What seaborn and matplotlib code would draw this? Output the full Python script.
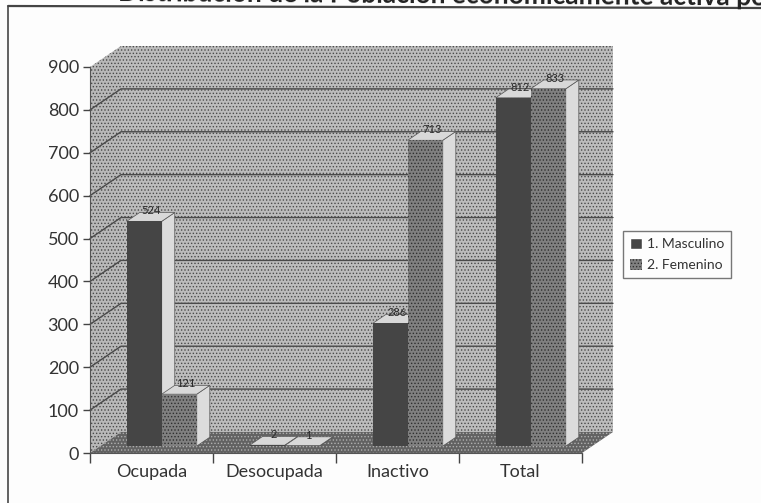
import matplotlib
matplotlib.use('Agg')
import matplotlib.pyplot as plt
import pandas as pd
import seaborn as sns
from matplotlib.patches import Polygon, Rectangle

categorias = ['Ocupada', 'Desocupada', 'Inactivo', 'Total']
masculino = [524, 2, 286, 812]
femenino = [121, 1, 713, 833]
etiquetas_serie = ['1. Masculino', '2. Femenino']
ticks_y = [0, 100, 200, 300, 400, 500, 600, 700, 800, 900]

df = pd.DataFrame({
    'categoria': categorias * 2,
    'valor': masculino + femenino,
    'sexo': [etiquetas_serie[0]] * 4 + [etiquetas_serie[1]] * 4,
})

sns.set_style('white')
plt.rcParams['font.family'] = ['Lato', 'DejaVu Sans']
plt.rcParams['hatch.linewidth'] = 0.6

W, H = 761, 503
fig = plt.figure(figsize=(W / 100, H / 100), dpi=100, facecolor='#fdfdfd')
ax = fig.add_axes([90 / W, 1 - 453 / H, 492 / W, 386 / H])
ax.patch.set_alpha(0)

# profundidad del grafico 3D en unidades de datos
dx, dy = 0.252, 49
x0, x1 = -0.5, 3.5
y_max = ticks_y[-1]
puntos_hatch = '.....'


def cara(puntos, color, hatch=None, hatch_color='#555555', z=1):
    ax.add_patch(Polygon(puntos, closed=True, facecolor=color, edgecolor=hatch_color if hatch else 'none',
                         hatch=hatch, linewidth=0, zorder=z, clip_on=False))


# paredes y piso
cara([(x0 + dx, dy), (x1 + dx, dy), (x1 + dx, y_max + dy), (x0 + dx, y_max + dy)], '#bcbcbc', puntos_hatch, '#4a4a4a')
cara([(x0, 0), (x0 + dx, dy), (x0 + dx, y_max + dy), (x0, y_max)], '#b8b8b8', puntos_hatch, '#484848')
cara([(x0, 0), (x1, 0), (x1 + dx, dy), (x0 + dx, dy)], '#626262', puntos_hatch, '#b0b0b0', z=1.2)

# lineas de la grilla
for t in ticks_y[1:-1]:
    ax.plot([x0, x0 + dx, x1 + dx], [t, t + dy, t + dy], color='#4a4a4a', lw=1.0, zorder=1.5, clip_on=False)

sns.barplot(data=df, x='categoria', y='valor', hue='sexo', order=categorias, hue_order=etiquetas_serie,
            palette=['#454545', '#808080'], width=0.57, saturation=1, gap=0, ax=ax, zorder=4, legend=False)

f_ini, f_prof = 0.33, 0.42
for n, cont in enumerate(ax.containers):
    for barra, valor in zip(cont.patches, [masculino, femenino][n]):
        barra.set_x(barra.get_x() + f_ini * dx)
        barra.set_y(f_ini * dy)
        barra.set_clip_on(False)
        barra.set_linewidth(0)
        if n == 1:
            barra.set_hatch(puntos_hatch)
            barra.set_edgecolor('#2f2f2f')
        izq = barra.get_x()
        der = izq + barra.get_width()
        base = barra.get_y()
        tope = base + barra.get_height()
        px, py = f_prof * dx, f_prof * dy
        # cara lateral y cara superior
        ax.add_patch(Polygon([(der, base), (der + px, base + py), (der + px, tope + py), (der, tope)],
                             facecolor='#dcdcdc', edgecolor='#555555', linewidth=0.5, zorder=3, clip_on=False))
        ax.add_patch(Polygon([(izq, tope), (der, tope), (der + px, tope + py), (izq + px, tope + py)],
                             facecolor='#d8d8d8', edgecolor='#555555', linewidth=0.5, zorder=3, clip_on=False))
        ax.text((izq + der + px) / 2, tope + py - 9, str(valor), ha='center', va='bottom', fontsize=8,
                color='#2a2a2a', zorder=6, clip_on=False)

ax.set_xlim(x0, x1)
ax.set_ylim(0, y_max)
ax.set_yticks(ticks_y)
ax.set_xticks([x0, 0.5, 1.5, 2.5, x1])
ax.set_xticklabels([])
ax.set_xticks(range(4), categorias, minor=True)
ax.tick_params(axis='x', which='major', length=7, width=1, color='#444444', bottom=True)
ax.tick_params(axis='x', which='minor', length=0, labelsize=13, labelcolor='#333333', pad=8, bottom=False)
ax.tick_params(axis='y', length=5, width=1, color='#444444', labelsize=13, labelcolor='#333333', pad=3, left=True)
ax.set_xlabel('')
ax.set_ylabel('')
for lado in ['top', 'right']:
    ax.spines[lado].set_visible(False)
for lado in ['left', 'bottom']:
    ax.spines[lado].set_color('#555555')
    ax.spines[lado].set_zorder(2)

# leyenda
manejadores = [Rectangle((0, 0), 1, 1, facecolor='#454545'),
               Rectangle((0, 0), 1, 1, facecolor='#808080', edgecolor='#2f2f2f', hatch=puntos_hatch, linewidth=0)]
fig.legend(manejadores, etiquetas_serie, loc='upper left', bbox_to_anchor=(623 / W, 1 - 231 / H),
           borderaxespad=0, fontsize=10, frameon=True, fancybox=False, edgecolor='#777777', facecolor='#fdfdfd',
           framealpha=1, handlelength=0.9, handleheight=0.9, handletextpad=0.3, labelspacing=0.6,
           borderpad=0.5, labelcolor='#333333')

# marco y titulo cortado del documento original
fig.add_artist(plt.Line2D([8 / W, 8 / W], [0, 1 - 7 / H], color='#555555', lw=1.3))
fig.add_artist(plt.Line2D([8 / W, 1], [1 - 6 / H, 1 - 8 / H], color='#444444', lw=1.6))
fig.text(118 / W, 1 - 1 / H, 'Distribución de la Población económicamente activa por', fontsize=19, fontweight='bold',
         color='#222222', ha='left', va='baseline', rotation=-0.4, rotation_mode='anchor')

fig.savefig('out.png', dpi=100, facecolor=fig.get_facecolor())
